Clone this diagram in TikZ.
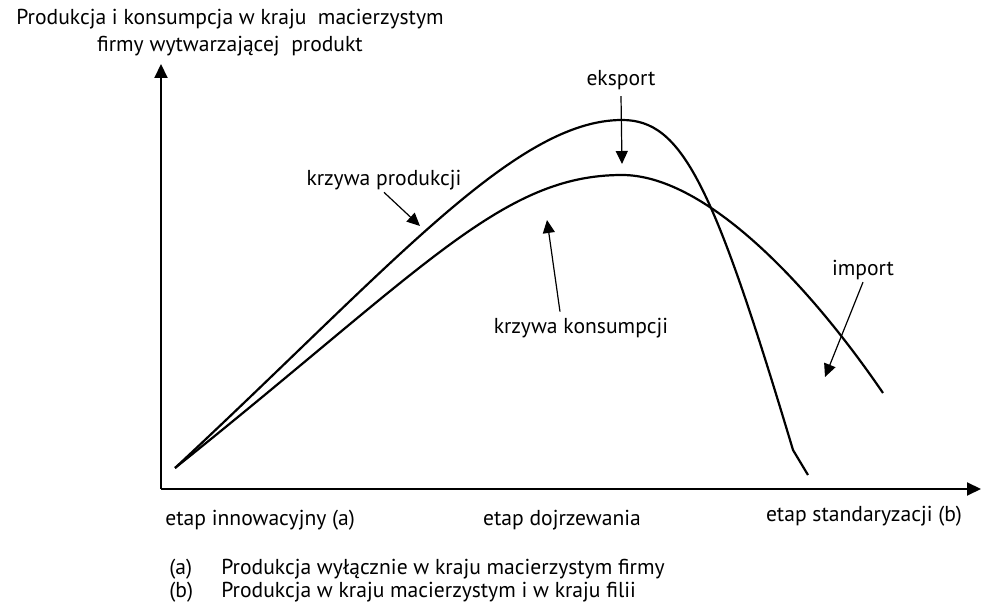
\documentclass[tikz,border=0pt]{standalone}
\usepackage{fontspec}
\setmainfont{PT Sans}
\usetikzlibrary{arrows.meta}

\begin{document}
\begin{tikzpicture}[x=0.5pt,y=-0.5pt,
  lbl/.style={inner sep=1pt,font=\fontsize{10.8}{13.5}\selectfont},
  arr/.style={line width=0.6pt,-{Triangle[length=6.5pt,width=6pt]}},
  curve/.style={line width=1.1pt,line join=round}]
\useasboundingbox (0,0) rectangle (981,608);
% axes
\coordinate (o) at (161,489);
\coordinate (ytop) at (161,64);
\coordinate (xend) at (981,489);
\draw[line width=1pt,-{Triangle[length=7pt,width=6.5pt]}] (o) -- (ytop);
\draw[line width=1pt,-{Triangle[length=7pt,width=6.5pt]}] (o) -- (xend);
% krzywa produkcji
\draw[curve] (175,468) .. controls (390,268) and (515,120) .. (622,120)
  .. controls (682,120) and (713,183) .. (793,450) -- (808,475);
% krzywa konsumpcji
\draw[curve] (175,468) .. controls (425,268) and (502,175) .. (622,175)
  .. controls (702,175) and (803,276) .. (883,393);
% opisy
\node[lbl,align=center] (title) at (230,33) {Produkcja i konsumpcja w kraju\ \ macierzystym\\firmy wytwarzającej\ \ produkt};
\node[lbl] (eksport) at (621,80) {eksport};
\node[lbl] (prodlab) at (384,180) {krzywa produkcji};
\node[lbl] (konslab) at (581,328) {krzywa konsumpcji};
\node[lbl] (import) at (863,270) {import};
\node[lbl,anchor=west] (etapa) at (163,520) {etap innowacyjny (a)};
\node[lbl] (etapd) at (562,520) {etap dojrzewania};
\node[lbl] (etapb) at (864,516) {etap standaryzacji (b)};
\node[lbl,anchor=west] (la) at (167,569) {(a)};
\node[lbl,anchor=west] (ta) at (219,569) {Produkcja wyłącznie w kraju macierzystym firmy};
\node[lbl,anchor=west] (lb) at (167,592) {(b)};
\node[lbl,anchor=west] (tb) at (219,592) {Produkcja w kraju macierzystym i w kraju filii};
% strzalki
\coordinate (eksporttip) at (622,164);
\coordinate (prodtip) at (420,226);
\coordinate (konstip) at (547,220);
\coordinate (importtip) at (825,377);
\draw[arr] ([yshift=-2pt]eksport.south) -- (eksporttip);
\draw[arr] (prodlab.south) -- (prodtip);
\draw[arr] ([xshift=-10.5pt,yshift=2pt]konslab.north) -- (konstip);
\draw[arr] (import.south) -- (importtip);
\end{tikzpicture}
\end{document}
